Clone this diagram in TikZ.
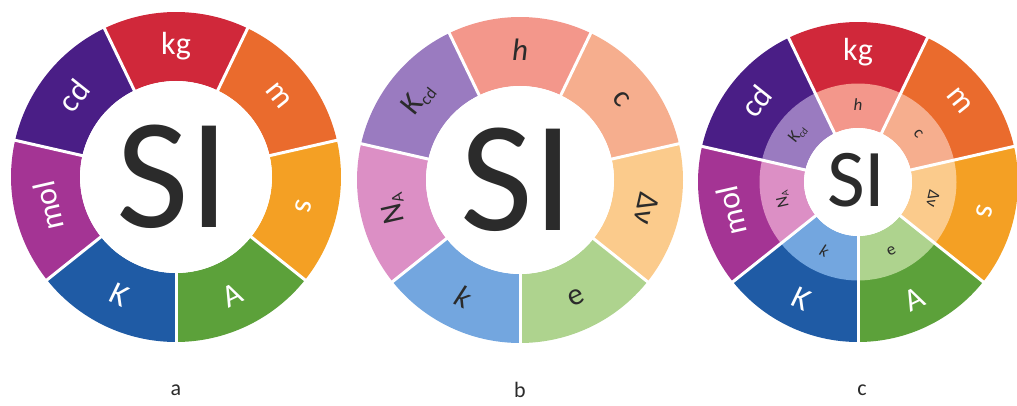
\documentclass[tikz,border=0pt]{standalone}
\usepackage{fontspec}
\setmainfont{Carlito}
\definecolor{ukg}{HTML}{D0283A}
\definecolor{um}{HTML}{EA6B2D}
\definecolor{us}{HTML}{F4A024}
\definecolor{uA}{HTML}{5CA13A}
\definecolor{uK}{HTML}{1F5BA5}
\definecolor{umol}{HTML}{A43494}
\definecolor{ucd}{HTML}{4A1E86}
\definecolor{ch}{HTML}{F3978B}
\definecolor{cc}{HTML}{F6AE8E}
\definecolor{cnu}{HTML}{FBCB8C}
\definecolor{ce}{HTML}{AED38E}
\definecolor{ck}{HTML}{73A6DF}
\definecolor{cna}{HTML}{DC8FC5}
\definecolor{ckcd}{HTML}{9A7BC0}
\definecolor{inkdark}{HTML}{2B2B2B}
\newcommand\annseg[4]{%
  \pgfmathsetmacro\annA{#1-25.7143}\pgfmathsetmacro\annB{#1+25.7143}%
  \fill[#4] (\annA:#2) arc[start angle=\annA, end angle=\annB, radius=#2]
    -- (\annB:#3) arc[start angle=\annB, end angle=\annA, radius=#3] -- cycle;}
\newcommand\subx[1]{{\fontsize{17}{17}\selectfont\raisebox{-4pt}{#1}}}
\newcommand\subs[1]{{\fontsize{10}{10}\selectfont\raisebox{-2.5pt}{#1}}}
\tikzset{
  sepline/.style={white, line width=3pt},
  unitlbl/.style={font=\fontsize{32}{34}\selectfont, text=white, inner sep=0pt},
  constlbl/.style={font=\fontsize{31}{33}\selectfont, text=inkdark, inner sep=0pt},
  smallconst/.style={font=\fontsize{17}{18}\selectfont, text=inkdark, inner sep=0pt},
  bigsi/.style={font=\fontsize{158}{160}\selectfont, text=inkdark, inner sep=0pt},
  smallsi/.style={font=\fontsize{82}{84}\selectfont, text=inkdark, inner sep=0pt},
  caption/.style={font=\fontsize{22}{24}\selectfont, text=inkdark, inner sep=0pt}
}
\begin{document}
\begin{tikzpicture}[x=1pt,y=1pt]
\useasboundingbox (0,0) rectangle (1017,405);
\fill[white] (0,0) rectangle (1017,405);
% ---------- a ----------
\begin{scope}[shift={(176,228)}]
\foreach \col/\txt/\flip [count=\n from 0] in {ukg/kg/-90, um/m/-90, us/s/-90, uA/A/90, uK/K/90, umol/mol/-90, ucd/cd/-90}{
  \pgfmathsetmacro\ang{90-\n*51.4286}
  \annseg{\ang}{96}{165}{\col}
  \node[unitlbl, rotate=\ang+\flip] (a\n) at (\ang:131) {\txt};
}
\foreach \k in {0,...,6} \draw[sepline] (0,0) -- ({64.2857-\k*51.4286}:168);
\fill[white] (0,0) circle[radius=96];
\node[bigsi] (siA) at (-3,0) {SI};
\end{scope}
% ---------- b ----------
\begin{scope}[shift={(520,225)}]
\foreach \col/\txt/\flip [count=\n from 0] in {ch/{\textit{h}}/-90, cc/c/-90, cnu/{Δν}/-90, ce/e/90, ck/{\textit{k}}/90, cna/{N\subx{A}}/-90, ckcd/{K\subx{cd}}/-90}{
  \pgfmathsetmacro\ang{90-\n*51.4286}
  \annseg{\ang}{94}{163}{\col}
  \node[constlbl, rotate=\ang+\flip] (b\n) at (\ang:130) {\txt};
}
\foreach \k in {0,...,6} \draw[sepline] (0,0) -- ({64.2857-\k*51.4286}:166);
\fill[white] (0,0) circle[radius=94];
\node[bigsi] (siB) at (-3,0) {SI};
\end{scope}
% ---------- c ----------
\begin{scope}[shift={(858,223)}]
\foreach \col/\txt/\flip [count=\n from 0] in {ukg/kg/-90, um/m/-90, us/s/-90, uA/A/90, uK/K/90, umol/mol/-90, ucd/cd/-90}{
  \pgfmathsetmacro\ang{90-\n*51.4286}
  \annseg{\ang}{98}{160}{\col}
  \node[unitlbl, rotate=\ang+\flip] (c\n) at (\ang:130) {\txt};
}
\foreach \col/\txt/\flip [count=\n from 0] in {ch/{\textit{h}}/-90, cc/c/-90, cnu/{Δν}/-90, ce/e/90, ck/{\textit{k}}/90, cna/{N\subs{A}}/-90, ckcd/{K\subs{cd}}/-90}{
  \pgfmathsetmacro\ang{90-\n*51.4286}
  \annseg{\ang}{54}{98.5}{\col}
  \node[smallconst, rotate=\ang+\flip] (d\n) at (\ang:77) {\txt};
}
\foreach \k in {0,...,6} \draw[sepline] (0,0) -- ({64.2857-\k*51.4286}:163);
\fill[white] (0,0) circle[radius=54];
\node[smallsi] (siC) at (-1.5,2) {SI};
\end{scope}
% ---------- captions ----------
\node[caption] (capA) at (176,15) {a};
\node[caption] (capB) at (520,15) {b};
\node[caption] (capC) at (862,15) {c};
\end{tikzpicture}
\end{document}
